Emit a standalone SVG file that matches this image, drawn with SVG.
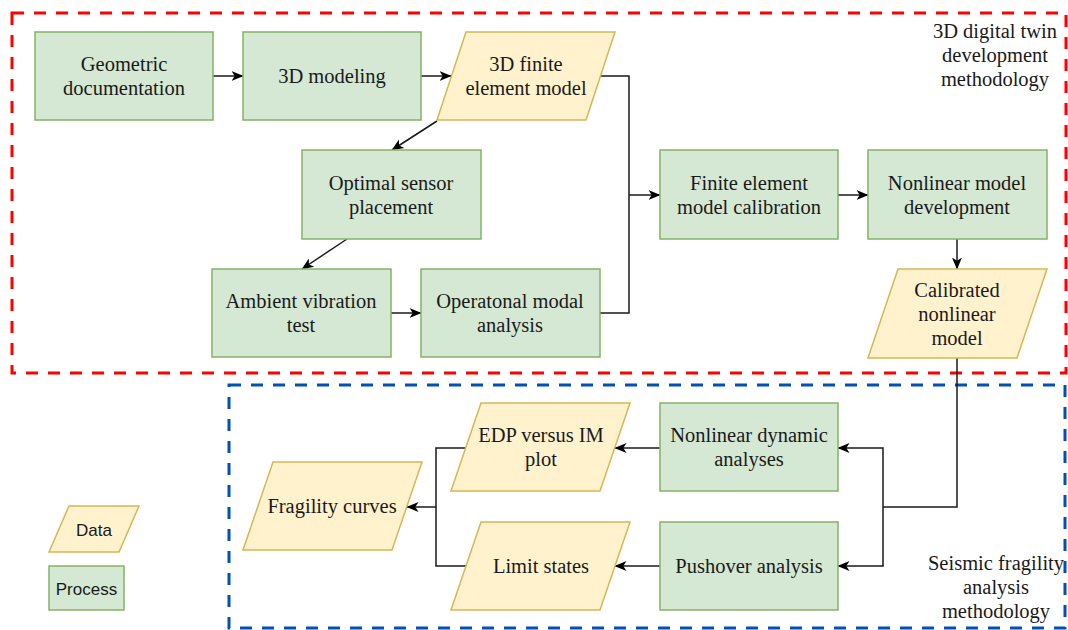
<svg xmlns="http://www.w3.org/2000/svg" width="1068" height="630" viewBox="0 0 1068 630">
<defs>
<marker id="arr" viewBox="0 0 12 12" refX="11.5" refY="6" markerWidth="12" markerHeight="12" markerUnits="userSpaceOnUse" orient="auto">
<path d="M0,1 L12,6 L0,11 L3.2,6 z" fill="#000"/>
</marker>
<style>
.proc{fill:#d5e8d4;stroke:#82b366;stroke-width:1.5}
.data{fill:#fff2cc;stroke:#d6b656;stroke-width:1.5}
text.t{font-family:'Liberation Serif','Times New Roman',serif;font-size:20.5px;fill:#1a1a1a;text-anchor:middle}
text.s{font-family:'Liberation Sans',Arial,sans-serif;font-size:17px;fill:#1a1a1a;text-anchor:middle}
.c{fill:none;stroke:#1a1a1a;stroke-width:1.5}
.ca{fill:none;stroke:#1a1a1a;stroke-width:1.5;marker-end:url(#arr)}
</style>
</defs>
<g id="groups">
<rect id="twin-box" x="12" y="13" width="1054" height="360" fill="none" stroke="#ff0000" stroke-width="3" stroke-dasharray="12,10"/>
<rect id="fragility-box" x="229" y="385" width="836" height="243" fill="none" stroke="#0050b8" stroke-width="3" stroke-dasharray="12,10"/>
<text class="t" x="995" y="38">3D digital twin</text>
<text class="t" x="995" y="62">development</text>
<text class="t" x="995" y="86">methodology</text>
<text class="t" x="996" y="570">Seismic fragility</text>
<text class="t" x="996" y="594">analysis</text>
<text class="t" x="996" y="618">methodology</text>
</g>
<g id="connectors">
<line class="ca" x1="213" y1="76" x2="243" y2="76"/>
<line class="ca" x1="421" y1="76" x2="451" y2="76"/>
<line class="ca" x1="437" y1="121" x2="392" y2="150"/>
<line class="ca" x1="347" y1="239" x2="302" y2="269"/>
<line class="ca" x1="391" y1="313" x2="421" y2="313"/>
<polyline class="c" points="601,76 629,76 629,313 600,313"/>
<line class="ca" x1="629" y1="195" x2="660" y2="195"/>
<line class="ca" x1="838" y1="195" x2="868" y2="195"/>
<line class="ca" x1="957" y1="239" x2="957" y2="269"/>
<polyline class="c" points="957,358 957,507 883,507"/>
<polyline class="ca" points="883,507 883,448 838,448"/>
<polyline class="ca" points="883,507 883,566 838,566"/>
<line class="ca" x1="660" y1="448" x2="615" y2="448"/>
<line class="ca" x1="660" y1="566" x2="615" y2="566"/>
<polyline class="c" points="466,448 436,448 436,566 466,566"/>
<line class="ca" x1="436" y1="507" x2="407" y2="507"/>
</g>
<g id="n-geometric">
<rect class="proc" x="35" y="32" width="178" height="88"/>
<text class="t" x="124" y="71" style="font-family:'Liberation Serif',serif">Geometric</text>
<text class="t" x="124" y="95" style="font-family:'Liberation Serif',serif">documentation</text>
</g>
<g id="n-3dmodeling">
<rect class="proc" x="243" y="32" width="178" height="88"/>
<text class="t" x="332" y="83" style="font-family:'Liberation Serif',serif">3D modeling</text>
</g>
<g id="n-fem">
<polygon class="data" points="466,32 615,32 586,120 437,120"/>
<text class="t" x="526" y="71" style="font-family:'Liberation Serif',serif">3D finite</text>
<text class="t" x="526" y="95" style="font-family:'Liberation Serif',serif">element model</text>
</g>
<g id="n-osp">
<rect class="proc" x="302" y="150" width="179" height="89"/>
<text class="t" x="391" y="190" style="font-family:'Liberation Serif',serif">Optimal sensor</text>
<text class="t" x="391" y="214" style="font-family:'Liberation Serif',serif">placement</text>
</g>
<g id="n-avt">
<rect class="proc" x="212" y="269" width="179" height="88"/>
<text class="t" x="301" y="308" style="font-family:'Liberation Serif',serif">Ambient vibration</text>
<text class="t" x="301" y="332" style="font-family:'Liberation Serif',serif">test</text>
</g>
<g id="n-oma">
<rect class="proc" x="421" y="269" width="179" height="88"/>
<text class="t" x="510" y="308" style="font-family:'Liberation Serif',serif">Operatonal modal</text>
<text class="t" x="510" y="332" style="font-family:'Liberation Serif',serif">analysis</text>
</g>
<g id="n-femc">
<rect class="proc" x="660" y="150" width="178" height="89"/>
<text class="t" x="749" y="190" style="font-family:'Liberation Serif',serif">Finite element</text>
<text class="t" x="749" y="214" style="font-family:'Liberation Serif',serif">model calibration</text>
</g>
<g id="n-nmd">
<rect class="proc" x="868" y="150" width="179" height="89"/>
<text class="t" x="957" y="190" style="font-family:'Liberation Serif',serif">Nonlinear model</text>
<text class="t" x="957" y="214" style="font-family:'Liberation Serif',serif">development</text>
</g>
<g id="n-cnm">
<polygon class="data" points="898,269 1047,269 1017,358 868,358"/>
<text class="t" x="957" y="297" style="font-family:'Liberation Serif',serif">Calibrated</text>
<text class="t" x="957" y="321" style="font-family:'Liberation Serif',serif">nonlinear</text>
<text class="t" x="957" y="345" style="font-family:'Liberation Serif',serif">model</text>
</g>
<g id="n-nda">
<rect class="proc" x="660" y="403" width="178" height="88"/>
<text class="t" x="749" y="442" style="font-family:'Liberation Serif',serif">Nonlinear dynamic</text>
<text class="t" x="749" y="466" style="font-family:'Liberation Serif',serif">analyses</text>
</g>
<g id="n-pushover">
<rect class="proc" x="660" y="522" width="178" height="88"/>
<text class="t" x="749" y="573" style="font-family:'Liberation Serif',serif">Pushover analysis</text>
</g>
<g id="n-edp">
<polygon class="data" points="481,403 630,403 600,491 451,491"/>
<text class="t" x="541" y="442" style="font-family:'Liberation Serif',serif">EDP versus IM</text>
<text class="t" x="541" y="466" style="font-family:'Liberation Serif',serif">plot</text>
</g>
<g id="n-limit">
<polygon class="data" points="481,522 630,522 600,610 451,610"/>
<text class="t" x="541" y="573" style="font-family:'Liberation Serif',serif">Limit states</text>
</g>
<g id="n-fragility">
<polygon class="data" points="273,462 422,462 392,550 243,550"/>
<text class="t" x="332" y="513" style="font-family:'Liberation Serif',serif">Fragility curves</text>
</g>
<g id="legend-data">
<polygon class="data" points="69,506 139,506 119,552 49,552"/>
<text class="s" x="94" y="536">Data</text>
</g>
<g id="legend-process">
<rect class="proc" x="49" y="566" width="75" height="44"/>
<text class="s" x="86.5" y="595">Process</text>
</g>
</svg>
